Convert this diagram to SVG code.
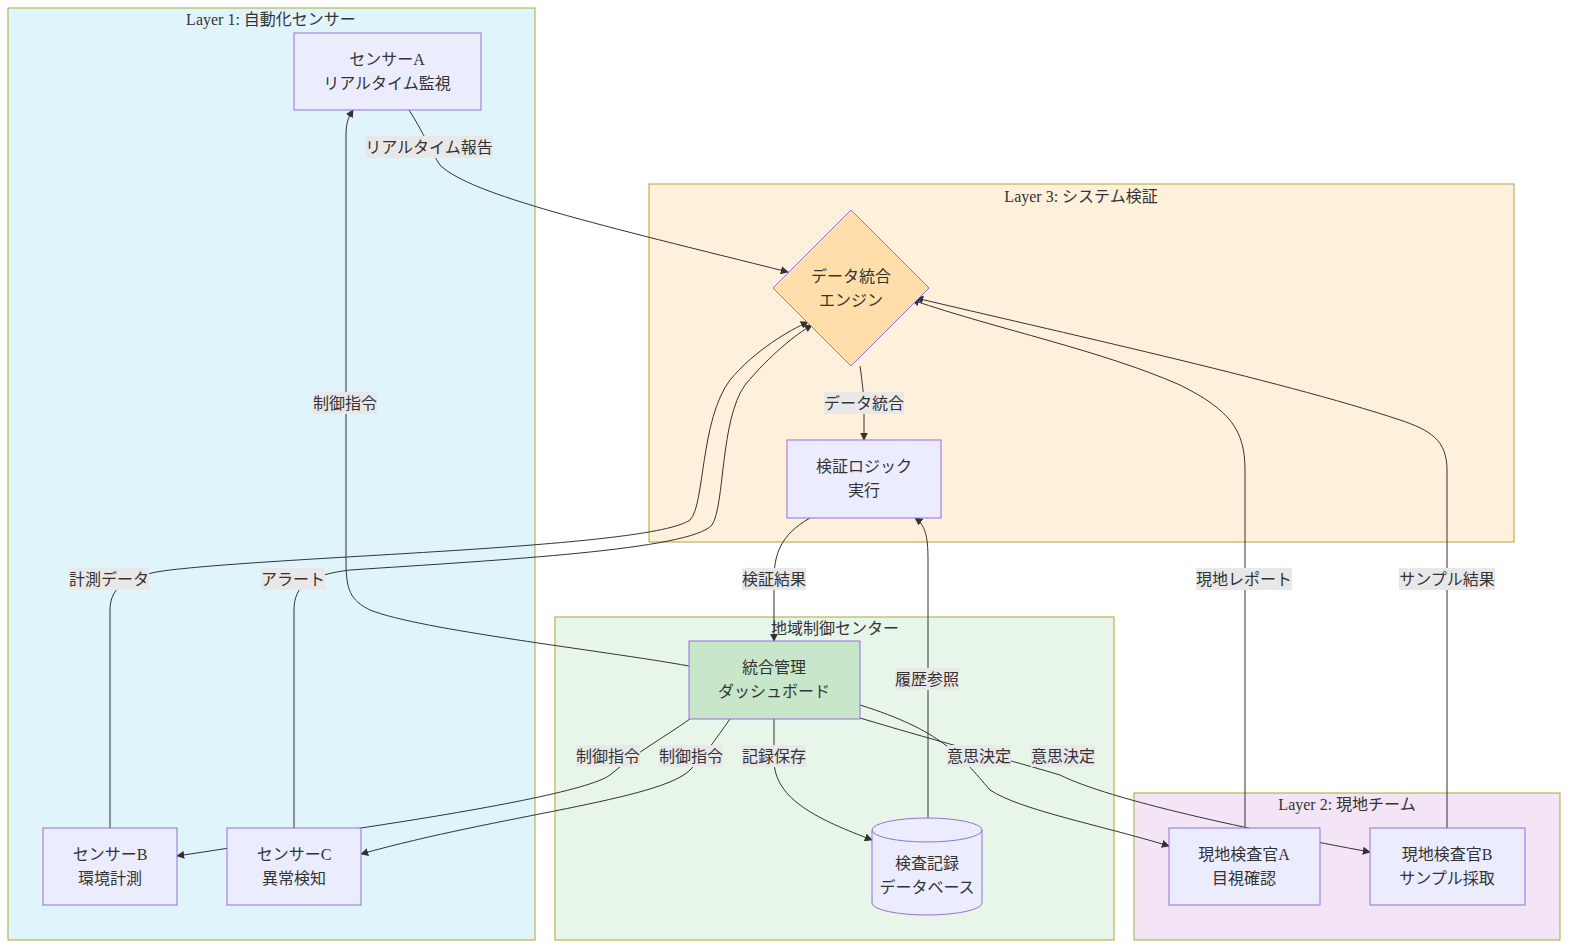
<svg xmlns="http://www.w3.org/2000/svg" width="1574" height="952" viewBox="0 0 1574 952">
<defs>
<marker id="ah" viewBox="0 0 10 10" refX="9" refY="5" markerWidth="8" markerHeight="8" orient="auto-start-reverse"><path d="M0,0 L10,5 L0,10 z" fill="#333"/></marker>
<style>
text{font-family:"Liberation Serif","Noto Sans CJK JP",serif;font-size:16px;fill:#333;text-anchor:middle;dominant-baseline:central}
.cl{stroke:#aaaa33;stroke-width:1}
.n{fill:#ececff;stroke:#9370db;stroke-width:1}
.e{fill:none;stroke:#333;stroke-width:1;marker-end:url(#ah)}
.lb{fill:#e8e8e8}
</style>
</defs>
<rect x="0" y="0" width="1574" height="952" fill="#fff"/>
<g id="clusters">
<rect class="cl" x="8" y="8" width="527" height="932" fill="#e0f4fc"/>
<text x="271" y="19">Layer 1: 自動化センサー</text>
<rect class="cl" x="649" y="184" width="865" height="358" fill="#fff0dc"/>
<text x="1081" y="196">Layer 3: システム検証</text>
<rect class="cl" x="555" y="617" width="559" height="323" fill="#e8f5e9"/>
<text x="835" y="628">地域制御センター</text>
<rect class="cl" x="1134" y="793" width="426" height="147" fill="#f3e5f5"/>
<text x="1347" y="804">Layer 2: 現地チーム</text>
</g>
<g id="connectors">
<path class="e" d="M409,110 C425,135 430,150 440,165 C470,195 600,225 788,272"/>
<path class="e" d="M689,666 C600,650 420,630 370,610 C350,600 346,590 346,560 L346,135 C346,120 350,115 353,110"/>
<path class="e" d="M110,828 L110,610 C110,585 130,575 170,570 C300,555 650,548 690,520 C705,505 700,420 730,380 C755,350 790,330 808,322"/>
<path class="e" d="M294,828 L294,610 C294,585 310,575 350,570 C500,560 690,550 712,525 C725,505 720,420 745,385 C770,355 795,335 812,325"/>
<path class="e" d="M860,366 C862,380 864,395 864,410 L864,440"/>
<path class="e" d="M810,518 C780,535 774,555 774,580 L774,641"/>
<path class="e" d="M928,818 L928,560 C928,535 925,525 915,518"/>
<path class="e" d="M730,719 C715,740 705,755 690,770 C660,800 500,815 361,854"/>
<path class="e" d="M690,719 C660,740 640,750 610,775 C590,790 480,810 361,828 L177,856"/>
<path class="e" d="M774,719 L774,760 C774,800 820,820 872,840"/>
<path class="e" d="M860,705 C940,730 960,755 990,790 C1020,810 1100,825 1169,846"/>
<path class="e" d="M860,718 C950,745 1010,760 1060,775 C1110,800 1250,830 1370,852"/>
<path class="e" d="M1245,828 L1245,470 C1245,430 1230,410 1180,385 C1100,350 1000,330 912,300"/>
<path class="e" d="M1447,828 L1447,470 C1447,440 1430,430 1400,420 C1280,380 1050,330 916,298"/>
</g>
<g id="labels">
<rect class="lb" x="365" y="136" width="128" height="22"/><text x="429" y="147">リアルタイム報告</text>
<rect class="lb" x="313" y="392" width="64" height="22"/><text x="345" y="403">制御指令</text>
<rect class="lb" x="69" y="568" width="80" height="22"/><text x="109" y="579">計測データ</text>
<rect class="lb" x="261" y="568" width="64" height="22"/><text x="293" y="579">アラート</text>
<rect class="lb" x="824" y="392" width="80" height="22"/><text x="864" y="403">データ統合</text>
<rect class="lb" x="742" y="568" width="64" height="22"/><text x="774" y="579">検証結果</text>
<rect class="lb" x="895" y="668" width="64" height="22"/><text x="927" y="679">履歴参照</text>
<rect class="lb" x="576" y="745" width="64" height="22"/><text x="608" y="756">制御指令</text>
<rect class="lb" x="659" y="745" width="64" height="22"/><text x="691" y="756">制御指令</text>
<rect class="lb" x="742" y="745" width="64" height="22"/><text x="774" y="756">記録保存</text>
<rect class="lb" x="947" y="745" width="64" height="22"/><text x="979" y="756">意思決定</text>
<rect class="lb" x="1031" y="745" width="64" height="22"/><text x="1063" y="756">意思決定</text>
<rect class="lb" x="1196" y="568" width="96" height="22"/><text x="1244" y="579">現地レポート</text>
<rect class="lb" x="1399" y="568" width="96" height="22"/><text x="1447" y="579">サンプル結果</text>
</g>
<g id="sensorA"><rect class="n" x="294" y="33" width="187" height="77"/><text x="387" y="59">センサーA</text><text x="387" y="83">リアルタイム監視</text></g>
<g id="engine"><polygon points="851,210 929,288 851,366 773,288" fill="#ffdeaa" stroke="#9370db"/><text x="851" y="276">データ統合</text><text x="851" y="300">エンジン</text></g>
<g id="logic"><rect class="n" x="787" y="440" width="154" height="78"/><text x="864" y="466">検証ロジック</text><text x="864" y="490">実行</text></g>
<g id="dashboard"><rect x="689" y="641" width="171" height="78" fill="#c8e6c9" stroke="#9370db"/><text x="774" y="667">統合管理</text><text x="774" y="691">ダッシュボード</text></g>
<g id="sensorB"><rect class="n" x="43" y="828" width="134" height="77"/><text x="110" y="854">センサーB</text><text x="110" y="878">環境計測</text></g>
<g id="sensorC"><rect class="n" x="227" y="828" width="134" height="77"/><text x="294" y="854">センサーC</text><text x="294" y="878">異常検知</text></g>
<g id="db"><path class="n" d="M872,830 A55,12 0 0 1 982,830 L982,903 A55,12 0 0 1 872,903 Z"/><path d="M872,830 A55,12 0 0 0 982,830" fill="none" stroke="#9370db"/><text x="927" y="863">検査記録</text><text x="927" y="887">データベース</text></g>
<g id="inspA"><rect class="n" x="1169" y="828" width="151" height="77"/><text x="1244" y="854">現地検査官A</text><text x="1244" y="878">目視確認</text></g>
<g id="inspB"><rect class="n" x="1370" y="828" width="155" height="77"/><text x="1447" y="854">現地検査官B</text><text x="1447" y="878">サンプル採取</text></g>
</svg>
